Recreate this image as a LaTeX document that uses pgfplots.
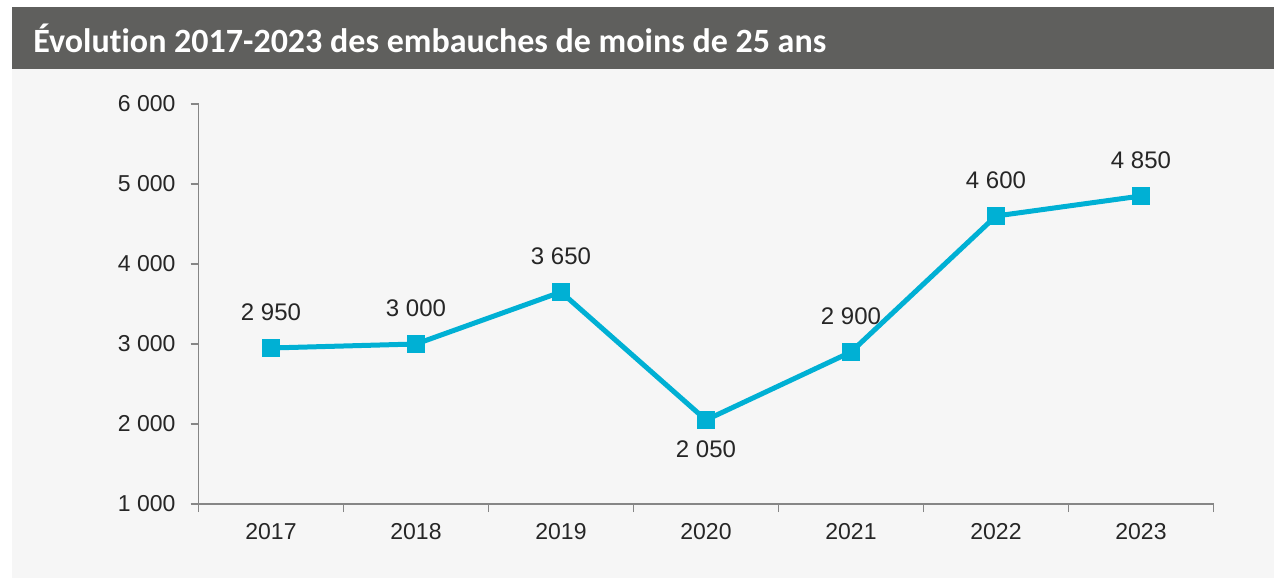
\documentclass[border=0pt]{standalone}
\usepackage{pgfplots}
\pgfplotsset{compat=1.18}
\usepackage{fontspec}
\setmainfont{Liberation Sans}
\newfontfamily\titlefont[Ligatures={NoCommon}]{Carlito}
\definecolor{barbg}{RGB}{95,95,93}
\definecolor{panelbg}{RGB}{246,246,246}
\definecolor{linec}{RGB}{0,176,212}
\definecolor{axisc}{RGB}{134,134,134}
\definecolor{textc}{RGB}{38,38,38}
\begin{document}
\begin{tikzpicture}
\path[use as bounding box] (0,0) rectangle (637pt,289pt);
\fill[white] (0,0) rectangle (637pt,289pt);
\fill[panelbg] (6pt,0) rectangle (637pt,254.5pt);
\fill[barbg] (6pt,254.5pt) rectangle (637pt,285.5pt);
\node[anchor=west, inner sep=0pt, text=white, font=\titlefont\bfseries\fontsize{17}{19}\selectfont] at (16.5pt,270pt) {Évolution 2017-2023 des embauches de moins de 25 ans};
\begin{axis}[
  at={(99.25pt,37pt)}, anchor=south west,
  scale only axis,
  width=507.5pt, height=200pt,
  xmin=-0.5, xmax=6.5, ymin=1000, ymax=6000,
  axis x line*=bottom, axis y line*=left,
  axis line style={axisc, line width=0.8pt},
  tick style={axisc, line width=0.8pt},
  tick align=outside,
  xtick={0,...,6},
  xticklabels={2017,2018,2019,2020,2021,2022,2023},
  major x tick style={draw=none},
  minor xtick={-0.5,0.5,...,6.5},
  minor tick length=4pt,
  major tick length=4pt,
  ytick={1000,2000,...,6000},
  yticklabels={1 000,2 000,3 000,4 000,5 000,6 000},
  ticklabel style={font=\fontsize{11.5}{13}\selectfont, text=textc},
  xticklabel style={yshift=-2pt},
  yticklabel style={xshift=-4pt},
  clip=false,
]
\addplot[linec, line width=2.5pt, mark=square*, mark size=4.3pt, mark options={solid, fill=linec, draw=linec, line width=0pt}]
  coordinates {(0,2950) (1,3000) (2,3650) (3,2050) (4,2900) (5,4600) (6,4850)};
\addplot[only marks, draw=none, mark=none, point meta=explicit symbolic,
  nodes near coords, nodes near coords align={above},
  every node near coord/.append style={font=\fontsize{12}{14}\selectfont, text=textc, yshift=10pt}]
  coordinates {(0,2950)[2 950] (1,3000)[3 000] (2,3650)[3 650] (4,2900)[2 900] (5,4600)[4 600] (6,4850)[4 850]};
\addplot[only marks, draw=none, mark=none, point meta=explicit symbolic,
  nodes near coords, nodes near coords align={below},
  every node near coord/.append style={font=\fontsize{12}{14}\selectfont, text=textc, yshift=-7pt}]
  coordinates {(3,2050)[2 050]};
\end{axis}
\end{tikzpicture}
\end{document}
